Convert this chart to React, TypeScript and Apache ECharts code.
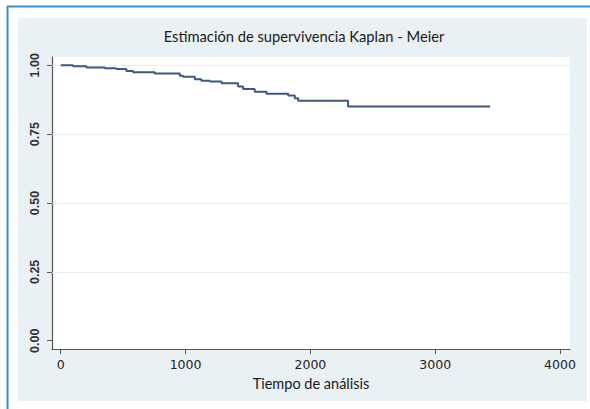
import React, { useEffect, useRef } from "react";
import * as echarts from "echarts";

const titleText = "Estimación de supervivencia Kaplan - Meier";
const xTitle = "Tiempo de análisis";
const xTicks = [0, 1000, 2000, 3000, 4000];
const yTicks = [0, 0.25, 0.5, 0.75, 1];
const gridValues = [0.25, 0.5, 0.75, 1];
const times = [0, 99, 206, 353, 446, 526, 580, 753, 954, 980, 1074, 1127, 1194, 1288, 1421, 1461, 1554, 1648, 1822, 1875, 1902, 2302, 3440];
const surv = [1.0, 0.996, 0.992, 0.989, 0.986, 0.979, 0.975, 0.97, 0.962, 0.958, 0.949, 0.944, 0.941, 0.935, 0.923, 0.914, 0.904, 0.897, 0.89, 0.88, 0.871, 0.85, 0.85];

export default function App() {
  const ref = useRef<HTMLDivElement>(null);
  useEffect(() => {
    if (!ref.current) return;
    const chart = echarts.init(ref.current, undefined, { renderer: "svg" });
    chart.setOption({
      animation: false,
      backgroundColor: "#ffffff",
      graphic: [
        { type: "rect", z: -10, shape: { x: 18, y: 18, width: 569, height: 383 }, style: { fill: "#e9f1f4" } },
        { type: "rect", z: -9, shape: { x: 52, y: 57, width: 518, height: 292 }, style: { fill: "#ffffff" } },
        { type: "line", shape: { x1: 7.5, y1: 6, x2: 7.5, y2: 409 }, style: { stroke: "#3d8fd3", lineWidth: 2 } },
        { type: "line", shape: { x1: 7, y1: 6.5, x2: 590, y2: 6.5 }, style: { stroke: "#3d8fd3", lineWidth: 2 } },
        {
          type: "text", x: 304, y: 36,
          style: { text: titleText, fontFamily: "Lato", fontSize: 14.7, fill: "#1a1a1a", align: "center", verticalAlign: "middle" },
        },
        {
          type: "text", x: 311, y: 383,
          style: { text: xTitle, fontFamily: "Lato", fontSize: 14.5, fill: "#1a1a1a", align: "center", verticalAlign: "middle" },
        },
      ],
      grid: { left: 52, top: 57, right: 20, bottom: 60, containLabel: false },
      xAxis: {
        type: "value",
        min: -70,
        max: 4080,
        axisLine: { show: true, onZero: false, lineStyle: { color: "#555", width: 1.2 } },
        axisTick: { show: true, length: 5, customValues: xTicks, lineStyle: { color: "#555" } },
        axisLabel: {
          fontFamily: "DejaVu Sans",
          fontSize: 12.5,
          color: "#222",
          margin: 9,
          customValues: xTicks,
          formatter: (v: number) => String(v),
        },
        splitLine: { show: false },
      },
      yAxis: {
        type: "value",
        min: -0.03,
        max: 1.03,
        axisLine: { show: true, onZero: false, lineStyle: { color: "#555", width: 1.2 } },
        axisTick: { show: true, length: 5, customValues: yTicks, lineStyle: { color: "#555" } },
        axisLabel: {
          fontFamily: "Liberation Sans",
          fontSize: 12.5,
          fontWeight: "bold",
          color: "#333",
          rotate: 90,
          margin: 11,
          customValues: yTicks,
          formatter: (v: number) => v.toFixed(2),
        },
        splitLine: { show: false },
      },
      series: [
        {
          type: "line",
          z: 1,
          silent: true,
          data: [],
          markLine: {
            silent: true,
            symbol: "none",
            label: { show: false },
            lineStyle: { color: "#e6eef2", type: "solid", width: 1 },
            data: gridValues.map((v) => ({ yAxis: v })),
          },
        },
        {
          type: "line",
          z: 5,
          step: "end",
          symbol: "none",
          data: times.map((t, i) => [t, surv[i]]),
          lineStyle: { color: "#3f5782", width: 2 },
        },
      ],
    });
    return () => chart.dispose();
  }, []);
  return <div ref={ref} style={{ position: "fixed", left: 0, top: 0, width: 590, height: 409 }} />;
}
